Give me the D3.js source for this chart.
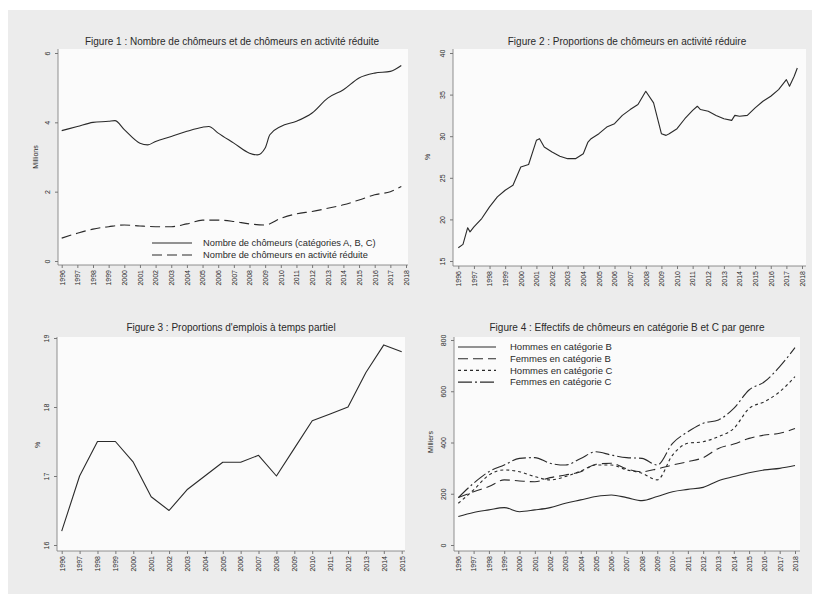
<!DOCTYPE html>
<html><head><meta charset="utf-8">
<script src="https://cdn.jsdelivr.net/npm/d3@7/dist/d3.min.js"></script>
<style>
body{margin:0;background:#fff;}
svg{display:block;font-family:"Liberation Sans",Arial,sans-serif;}
</style></head><body>
<svg id="c" width="815" height="599"></svg>
<script>
// ---------- DATA ----------
// Figure 1 (millions)
const f1Years = [1996,1997,1998,1999,1999.4,2000,2001,2001.5,2002,2003,2004,2005,2005.4,2006,2007,2008,2008.5,2009,2009.3,2010,2011,2012,2013,2014,2015,2016,2017,2017.7];
const f1Chomeurs = [3.76,3.88,4.0,4.03,4.05,3.79,3.40,3.35,3.45,3.59,3.74,3.86,3.88,3.69,3.40,3.11,3.06,3.26,3.64,3.88,4.03,4.27,4.70,4.94,5.28,5.42,5.47,5.64];
const f1YearsR = [1996,1997,1998,1999,2000,2001,2002,2003,2004,2005,2006,2007,2008,2009,2010,2011,2012,2013,2014,2015,2016,2017,2017.7];
const f1Reduite = [0.66,0.80,0.92,0.99,1.04,1.01,0.99,0.99,1.07,1.18,1.18,1.14,1.07,1.04,1.23,1.36,1.43,1.52,1.62,1.76,1.91,2.0,2.15];
const f1Legend = ["Nombre de chômeurs (catégories A, B, C)","Nombre de chômeurs en activité réduite"];

// Figure 2 (%)
const f2Years = [1996,1996.3,1996.6,1996.75,1997,1997.5,1998,1998.5,1999,1999.5,2000,2000.5,2001,2001.2,2001.5,2002,2002.5,2003,2003.5,2004,2004.3,2004.5,2005,2005.5,2006,2006.5,2007,2007.5,2008,2008.5,2009,2009.3,2009.5,2010,2010.5,2011,2011.3,2011.5,2012,2012.5,2013,2013.5,2013.7,2014,2014.5,2015,2015.5,2016,2016.5,2017,2017.2,2017.5,2017.7];
const f2Prop = [16.6,17.0,19.0,18.5,19.1,20.1,21.5,22.7,23.5,24.1,26.3,26.6,29.5,29.7,28.7,28.1,27.6,27.3,27.3,27.9,29.3,29.7,30.3,31.1,31.5,32.5,33.2,33.8,35.4,34.0,30.3,30.1,30.3,30.9,32.1,33.1,33.6,33.2,33.0,32.5,32.1,31.9,32.5,32.4,32.5,33.4,34.2,34.8,35.6,36.8,36.0,37.2,38.2];

// Figure 3 (%)
const f3Years = [1996,1997,1998,1999,2000,2001,2002,2003,2004,2005,2006,2007,2008,2009,2010,2011,2012,2013,2014,2015];
const f3Prop = [16.2,17.0,17.5,17.5,17.2,16.7,16.5,16.8,17.0,17.2,17.2,17.3,17.0,17.4,17.8,17.9,18.0,18.5,18.9,18.8];

// Figure 4 (milliers)
const f4Years = [1996,1997,1998,1999,2000,2001,2002,2003,2004,2005,2006,2007,2008,2009,2010,2011,2012,2013,2014,2015,2016,2017,2018];
const f4HommesB = [111,127,137,146,130,137,146,163,176,189,195,185,173,189,208,217,225,251,267,282,293,299,310];
const f4FemmesB = [185,208,228,254,250,247,263,273,286,315,319,297,286,297,312,325,341,377,394,416,429,436,455];
const f4HommesC = [163,215,273,293,286,267,254,267,289,312,312,293,280,254,351,397,403,423,455,533,559,598,657];
const f4FemmesC = [185,241,286,312,338,341,319,312,338,364,351,341,338,312,397,442,475,488,533,605,637,696,770];
const f4Legend = ["Hommes en catégorie B","Femmes en catégorie B","Hommes en catégorie C","Femmes en catégorie C"];

// ---------- DRAWING ----------
const svg = d3.select("#c");
svg.append("rect").attr("x",8).attr("y",10).attr("width",804).attr("height",584).attr("fill","#ececec");

const INK = "#2a2a2a";
const DASH = {solid:null, longdash:"10,5", shortdash:"3,3", dashdot:"14,3,2,3"};

function panel(o){
  const g = svg.append("g");
  g.append("rect").attr("x",o.px0).attr("y",o.py0).attr("width",o.px1-o.px0).attr("height",o.py1-o.py0).attr("fill","#fbfbfb");
  const x = d3.scaleLinear().domain(o.xdom).range(o.xr);
  const y = d3.scaleLinear().domain(o.ydom).range(o.yr);
  // x axis
  const xa = g.append("g").attr("transform",`translate(0,${o.py1})`)
    .call(d3.axisBottom(x).tickValues(d3.range(o.xdom[0],o.xdom[1]+1)).tickFormat(d3.format("d")).tickSize(3).tickSizeOuter(0));
  xa.select(".domain").attr("d",`M${o.px0},0H${o.px1}`).attr("stroke","#777").attr("stroke-width",0.8);
  xa.selectAll(".tick line").attr("stroke","#777");
  xa.selectAll(".tick text").attr("transform","rotate(-90)").attr("text-anchor","end")
    .attr("x",-5).attr("y",0).attr("dy","0.33em").attr("font-size",7).attr("fill",INK);
  // y axis
  const ya = g.append("g").attr("transform",`translate(${o.px0},0)`)
    .call(d3.axisLeft(y).tickValues(o.yticks).tickFormat(d3.format("d")).tickSize(3).tickSizeOuter(0));
  ya.select(".domain").attr("d",`M0,${o.py0}V${o.py1}`).attr("stroke","#777").attr("stroke-width",0.8);
  ya.selectAll(".tick line").attr("stroke","#777");
  ya.selectAll(".tick text").attr("transform","rotate(-90)").attr("text-anchor","middle")
    .attr("x",0).attr("y",-8).attr("dy",0).attr("font-size",7).attr("fill",INK);
  // y title
  g.append("text").attr("transform",`translate(${o.ytx},${o.yty}) rotate(-90)`).attr("text-anchor","middle")
    .attr("font-size",7).attr("fill",INK).text(o.ytitle);
  // title
  g.append("text").attr("x",o.tx).attr("y",o.ty).attr("text-anchor","middle").attr("font-size",10).attr("fill",INK).text(o.title);
  // lines
  const line = d3.line().x(d=>x(d[0])).y(d=>y(d[1])).curve(o.smooth ? d3.curveMonotoneX : d3.curveLinear);
  o.series.forEach(s=>{
    g.append("path").datum(d3.zip(s.xs,s.ys)).attr("d",line).attr("fill","none")
      .attr("stroke",INK).attr("stroke-width",1.1).attr("stroke-linejoin","round").attr("stroke-dasharray",DASH[s.dash]);
  });
  // legend
  if(o.legend){
    const L=o.legend;
    L.labels.forEach((t,i)=>{
      const yy=L.y+i*L.dy;
      g.append("line").attr("x1",L.x).attr("x2",L.x+L.len).attr("y1",yy).attr("y2",yy)
        .attr("stroke",INK).attr("stroke-width",1.1).attr("stroke-dasharray",DASH[o.series[i].dash]);
      g.append("text").attr("x",L.tx).attr("y",yy).attr("dy","0.35em").attr("font-size",L.fs).attr("fill",INK).text(t);
    });
  }
}

panel({px0:58,px1:408,py0:49,py1:265,xdom:[1996,2018],xr:[61.7,406],ydom:[0,6],yr:[261,53],yticks:[0,2,4,6],smooth:true,
  ytitle:"Millions",ytx:38,yty:157,title:"Figure 1 : Nombre de chômeurs et de chômeurs en activité réduite",tx:232,ty:45,
  series:[{xs:f1Years,ys:f1Chomeurs,dash:"solid"},{xs:f1YearsR,ys:f1Reduite,dash:"longdash"}],
  legend:{labels:f1Legend,x:152,len:40,tx:203,y:243,dy:12,fs:9.3}});

panel({px0:453,px1:806,py0:49,py1:266,xdom:[1996,2018],xr:[458.3,802],ydom:[15,40],yr:[261,53],yticks:[15,20,25,30,35,40],smooth:false,
  ytitle:"%",ytx:430,yty:157,title:"Figure 2 : Proportions de chômeurs en activité réduire",tx:627,ty:45,
  series:[{xs:f2Years,ys:f2Prop,dash:"solid"}]});

panel({px0:57,px1:405,py0:337,py1:551,xdom:[1996,2015],xr:[61.7,401.7],ydom:[16,19],yr:[545,338],yticks:[16,17,18,19],smooth:false,
  ytitle:"%",ytx:40,yty:445,title:"Figure 3 : Proportions d'emplois à temps partiel",tx:231,ty:331,
  series:[{xs:f3Years,ys:f3Prop,dash:"solid"}]});

panel({px0:454,px1:800,py0:337,py1:551,xdom:[1996,2018],xr:[458.3,795],ydom:[0,800],yr:[545,340],yticks:[0,200,400,600,800],smooth:true,
  ytitle:"Milliers",ytx:433,yty:442,title:"Figure 4 : Effectifs de chômeurs en catégorie B et C par genre",tx:627,ty:331,
  series:[{xs:f4Years,ys:f4HommesB,dash:"solid"},{xs:f4Years,ys:f4FemmesB,dash:"longdash"},{xs:f4Years,ys:f4HommesC,dash:"shortdash"},{xs:f4Years,ys:f4FemmesC,dash:"dashdot"}],
  legend:{labels:f4Legend,x:458,len:38,tx:510,y:347,dy:11.7,fs:9.5}});
</script>
</body></html>
